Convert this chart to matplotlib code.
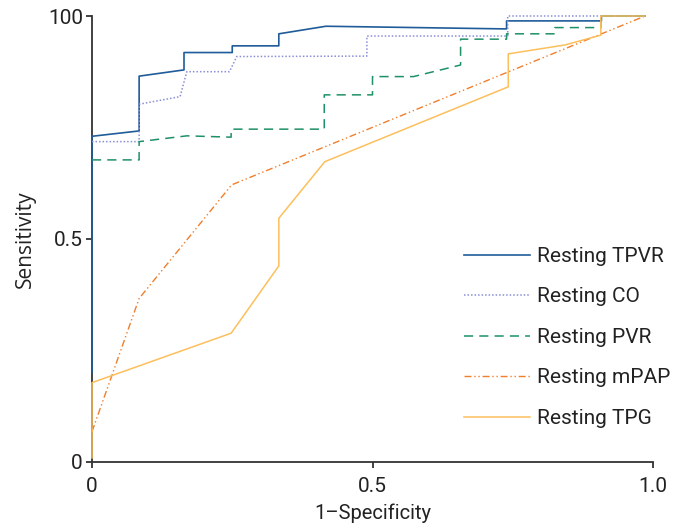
import numpy as np
import matplotlib
matplotlib.use('Agg')
import matplotlib.pyplot as plt

plt.rcParams['font.family'] = ['Roboto', 'DejaVu Sans']

# ROC curves (1-specificity, sensitivity)
tpvr_x = [0, 0, 0.084, 0.084, 0.164, 0.164, 0.25, 0.25, 0.333, 0.333, 0.417, 0.739, 0.739, 0.908, 0.908, 0.986]
tpvr_y = [0.2, 0.73, 0.742, 0.865, 0.879, 0.918, 0.918, 0.933, 0.933, 0.96, 0.977, 0.971, 0.989, 0.989, 1.0, 1.0]

co_x = [0, 0.084, 0.084, 0.157, 0.169, 0.245, 0.258, 0.49, 0.49, 0.741, 0.741, 0.986]
co_y = [0.718, 0.718, 0.802, 0.819, 0.875, 0.875, 0.909, 0.91, 0.955, 0.955, 1.0, 1.0]

pvr_x = [0, 0.084, 0.084, 0.169, 0.248, 0.248, 0.414, 0.414, 0.5, 0.5, 0.573, 0.657, 0.657,
         0.739, 0.739, 0.825, 0.825, 0.907, 0.907, 0.986]
pvr_y = [0.677, 0.677, 0.718, 0.731, 0.728, 0.746, 0.746, 0.823, 0.823, 0.864, 0.864, 0.89, 0.948,
         0.948, 0.96, 0.96, 0.974, 0.974, 1.0, 1.0]

mpap_x = [0, 0.084, 0.249, 0.986]
mpap_y = [0.067, 0.366, 0.621, 1.0]

tpg_x = [0, 0, 0.248, 0.333, 0.333, 0.415, 0.742, 0.742, 0.843, 0.907, 0.907, 0.986]
tpg_y = [0.008, 0.177, 0.288, 0.439, 0.546, 0.673, 0.841, 0.915, 0.935, 0.957, 1.0, 1.0]

labels = ['Resting TPVR', 'Resting CO', 'Resting PVR', 'Resting mPAP', 'Resting TPG']

fig = plt.figure(figsize=(6.86, 5.24), dpi=100)
ax = fig.add_axes([92 / 686, 1 - 461.5 / 524, 561 / 686, 445.5 / 524])

kw = dict(clip_on=False, zorder=3)
ax.plot(tpvr_x, tpvr_y, color='#1f5c99', lw=1.2, label=labels[0], **kw)
ax.plot(co_x, co_y, color='#8a8fd6', lw=1.1, ls=(0, (1, 1.3)), label=labels[1], **kw)
ax.plot(pvr_x, pvr_y, color='#1f9166', lw=1.1, ls=(0, (6, 4)), label=labels[2], **kw)
ax.plot(mpap_x, mpap_y, color='#f07f2d', lw=1.0, ls=(0, (5, 2, 1, 2, 1, 2)), label=labels[3], **kw)
ax.plot(tpg_x, tpg_y, color='#fdbf5c', lw=1.1, label=labels[4], **kw)

ax.set_xlim(0, 1.0)
ax.set_ylim(0, 1.0)
ax.set_xticks([0, 0.5, 1.0])
ax.set_xticklabels(['0', '0.5', '1.0'])
ax.set_yticks([0, 0.5, 1.0])
ax.set_yticklabels(['0', '0.5', '100'])
for s in ['top', 'right']:
    ax.spines[s].set_visible(False)
for s in ['left', 'bottom']:
    ax.spines[s].set_color('#333333')
    ax.spines[s].set_linewidth(1.3)
ax.tick_params(direction='out', length=4.5, width=1.3, color='#333333', labelsize=15,
               labelcolor='#222222')
ax.tick_params(axis='x', pad=7)
ax.tick_params(axis='y', pad=2)
ax.set_xlabel('1\u2013Specificity', fontsize=14.5, color='#222222', labelpad=5)
ax.set_ylabel('Sensitivity', fontsize=15, color='#222222', labelpad=9,
              family=['Open Sans', 'DejaVu Sans'])

ax.legend(loc='upper left', bbox_to_anchor=(464 / 686, 1 - 247 / 524),
          bbox_transform=fig.transFigure, frameon=False, fontsize=15,
          handlelength=3.17, handletextpad=0.34, labelspacing=1.03, borderpad=0,
          borderaxespad=0, labelcolor='#222222')

fig.savefig('out.png', dpi=100)
